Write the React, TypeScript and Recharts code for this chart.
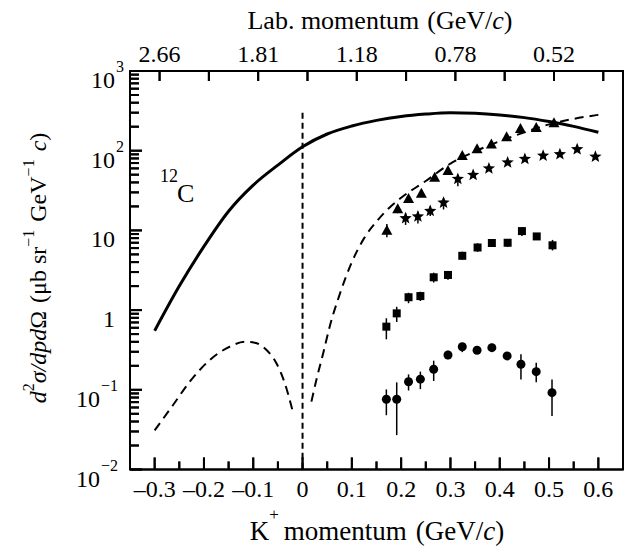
import {
  ComposedChart,
  Line,
  Scatter,
  XAxis,
  YAxis,
  ErrorBar,
  ReferenceLine,
} from "recharts";

// calculated curves: [K+ momentum, cross section]
const solidCurve = [
  [-0.3, 0.55], [-0.25, 2.0], [-0.2, 6.3], [-0.15, 17.4], [-0.1, 37],
  [-0.05, 66], [0.0, 112], [0.05, 162], [0.1, 204], [0.15, 240],
  [0.2, 269], [0.25, 288], [0.3, 299], [0.35, 294], [0.4, 280],
  [0.45, 260], [0.5, 232], [0.55, 202], [0.6, 170],
];

const dashedLeft = [
  [-0.3, 0.031], [-0.263, 0.064], [-0.229, 0.126], [-0.188, 0.237],
  [-0.148, 0.347], [-0.117, 0.4], [-0.097, 0.39], [-0.073, 0.316],
  [-0.053, 0.215], [-0.036, 0.121], [-0.021, 0.057],
];

const dashedRight = [
  [0.018, 0.071], [0.028, 0.133], [0.042, 0.29], [0.055, 0.62],
  [0.075, 1.55], [0.1, 4.0], [0.125, 8.0], [0.15, 12.9], [0.175, 19],
  [0.2, 25.7], [0.25, 41.7], [0.3, 69], [0.35, 98], [0.4, 132],
  [0.45, 170], [0.5, 214], [0.55, 251], [0.6, 282],
];

// measured points: [K+ momentum, value, error down, error up]
const triangles = [
  [0.171, 9.9, 1.7, 2.1], [0.193, 18.4, 2.0, 2.4], [0.215, 24.8, 1.2, 1.2],
  [0.241, 28.9, 1.4, 1.4], [0.268, 45.8, 2, 2], [0.295, 55.6, 2.5, 2.5],
  [0.324, 85.8, 3.5, 3.5], [0.354, 104, 4, 4], [0.383, 120, 5, 5],
  [0.414, 147, 6, 6], [0.442, 187, 7, 7], [0.474, 193, 7, 7], [0.51, 221, 8, 8],
];

const stars = [
  [0.209, 14.2, 2.5, 2.2], [0.234, 14.9, 2.7, 2.2], [0.259, 17.5, 2.3, 2.4],
  [0.286, 22.3, 4.0, 2.9], [0.315, 44.2, 8.4, 5.1], [0.346, 49.6, 2, 2],
  [0.378, 59.8, 2, 2], [0.416, 71.1, 2.5, 2.5], [0.451, 78.7, 3, 3],
  [0.488, 86.5, 3, 3], [0.522, 90.2, 3, 3], [0.557, 104, 4, 4], [0.594, 84.1, 3, 3],
];

const squares = [
  [0.17, 0.62, 0.19, 0.17], [0.191, 0.91, 0.2, 0.19], [0.215, 1.45, 0.23, 0.2],
  [0.239, 1.5, 0.2, 0.2], [0.266, 2.58, 0.36, 0.37], [0.295, 2.76, 0.36, 0.34],
  [0.324, 4.8, 0.5, 0.6], [0.355, 6.1, 0.7, 0.8], [0.384, 6.95, 0.4, 0.4],
  [0.416, 7.0, 0.8, 0.8], [0.445, 9.8, 1.3, 1.2], [0.475, 8.4, 0.5, 0.5],
  [0.507, 6.5, 0.9, 1.1],
];

const circles = [
  [0.17, 0.076, 0.028, 0.025], [0.191, 0.076, 0.049, 0.048], [0.215, 0.126, 0.028, 0.03],
  [0.239, 0.136, 0.034, 0.033], [0.266, 0.181, 0.052, 0.051], [0.295, 0.273, 0.031, 0.037],
  [0.324, 0.347, 0.05, 0.036], [0.354, 0.313, 0.02, 0.02], [0.384, 0.338, 0.04, 0.04],
  [0.415, 0.266, 0.03, 0.03], [0.443, 0.209, 0.074, 0.07], [0.474, 0.169, 0.045, 0.05],
  [0.506, 0.092, 0.045, 0.043],
];

// axes
const xMajorTicks = [-0.3, -0.2, -0.1, 0, 0.1, 0.2, 0.3, 0.4, 0.5, 0.6];
const xMajorLabels = ["–0.3", "–0.2", "–0.1", "0", "0.1", "0.2", "0.3", "0.4", "0.5", "0.6"];
const xMinorTicks = [-0.25, -0.15, -0.05, 0.05, 0.15, 0.25, 0.35, 0.45, 0.55];
const labTicks = [-0.29, -0.19, -0.09, 0.01, 0.11, 0.21, 0.31, 0.41, 0.51, 0.61];
const labLabels = ["2.66", "", "1.81", "", "1.18", "", "0.78", "", "0.52", ""];
const yDecades = [0.01, 0.1, 1, 10, 100, 1000];
const yBase = ["10", "10", "1", "10", "10", "10"];
const yExp = ["−2", "−1", "", "", "2", "3"];

const yMinorTicks = yDecades.slice(0, -1).flatMap((d) =>
  [2, 3, 4, 5, 6, 7, 8, 9].map((m) => d * m)
);

const FONT = "'Liberation Serif', 'Times New Roman', serif";

// plot box, same as the chart margins + axis sizes below
const X_DOMAIN = [-0.35, 0.65];
const PLOT = { left: 130, top: 71, width: 493, height: 398.5 };
const px = (v: number) => PLOT.left + ((v - X_DOMAIN[0]) / (X_DOMAIN[1] - X_DOMAIN[0])) * PLOT.width;
const py = (v: number) => PLOT.top + ((3 - Math.log10(v)) / 5) * PLOT.height;

const toPts = (arr: number[][]) => arr.map(([x, y]) => ({ x, y }));
const toErrPts = (arr: number[][]) =>
  arr.map(([x, y, lo, hi]) => ({ x, y, err: [lo, hi] }));

const BottomTick = (props: any) => {
  const { x, y, payload } = props;
  const i = xMajorTicks.findIndex((t) => Math.abs(t - payload.value) < 1e-6);
  const major = i >= 0;
  return (
    <g>
      <path d={`M${x},${y}L${x},${y - (major ? 12 : 8)}`} stroke="#000" strokeWidth={2} />
      {major && (
        <text x={x} y={y + 27} textAnchor="middle" fontSize={24} fontFamily={FONT}>
          {xMajorLabels[i]}
        </text>
      )}
    </g>
  );
};

const TopTick = (props: any) => {
  const { x, y, index } = props;
  const show = labLabels[index] !== "";
  return (
    <g>
      <path d={`M${x},${y}L${x},${y + 10}`} stroke="#000" strokeWidth={2} />
      {show && (
        <text x={x} y={y - 9} textAnchor="middle" fontSize={24} fontFamily={FONT}>
          {labLabels[index]}
        </text>
      )}
    </g>
  );
};

const LeftTick = (props: any) => {
  const { x, y, payload } = props;
  const i = yDecades.findIndex(
    (d) => Math.abs(Math.log10(d) - Math.log10(payload.value)) < 1e-6
  );
  const major = i >= 0;
  const hasExp = major && yExp[i] !== "";
  const baseEnd = hasExp && yExp[i].length > 1 ? x - 30 : x - 15;
  return (
    <g>
      <path d={`M${x},${y}L${x + (major ? 12 : 9)},${y}`} stroke="#000" strokeWidth={2} />
      {major && (
        <text x={baseEnd} y={y + 17} textAnchor="end" fontSize={24} fontFamily={FONT}>
          {yBase[i]}
        </text>
      )}
      {hasExp && (
        <text x={baseEnd + 1} y={y + 1} textAnchor="start" fontSize={16} fontFamily={FONT}>
          {yExp[i]}
        </text>
      )}
    </g>
  );
};

const starPath = (cx: number, cy: number, R: number, r: number) => {
  let d = "";
  for (let i = 0; i < 10; i++) {
    const a = -Math.PI / 2 + (i * Math.PI) / 5;
    const rad = i % 2 === 0 ? R : r;
    d += (i === 0 ? "M" : "L") + (cx + rad * Math.cos(a)).toFixed(2) + "," + (cy + rad * Math.sin(a)).toFixed(2);
  }
  return d + "Z";
};

const TriangleMark = (p: any) => (
  <path d={`M${p.cx},${p.cy - 6}L${p.cx + 5.5},${p.cy + 4}L${p.cx - 5.5},${p.cy + 4}Z`} fill="#000" />
);
const StarMark = (p: any) => <path d={starPath(p.cx, p.cy, 6.5, 2.8)} fill="#000" />;
const SquareMark = (p: any) => <rect x={p.cx - 4} y={p.cy - 4} width={8} height={8} fill="#000" />;
const CircleMark = (p: any) => <circle cx={p.cx} cy={p.cy} r={4.5} fill="#000" />;

const App = () => {
  const bottom = PLOT.top + PLOT.height;
  return (
    <div style={{ position: "absolute", left: 0, top: 0, width: 627, height: 552 }}>
      <ComposedChart
        width={627}
        height={552}
        margin={{ top: 41, right: 4, bottom: 52.5, left: 70 }}
      >
        <XAxis
          dataKey="x"
          type="number"
          domain={X_DOMAIN}
          ticks={[...xMajorTicks, ...xMinorTicks]}
          interval={0}
          tickSize={0}
          tickMargin={0}
          tick={BottomTick}
          stroke="#000"
          strokeWidth={2}
          height={30}
        />
        <XAxis
          xAxisId="top"
          orientation="top"
          dataKey="x"
          type="number"
          domain={X_DOMAIN}
          allowDataOverflow
          ticks={labTicks}
          interval={0}
          tickSize={0}
          tickMargin={0}
          tick={TopTick}
          stroke="#000"
          strokeWidth={2}
          height={30}
        />
        <YAxis
          type="number"
          scale="log"
          domain={[0.01, 1000]}
          ticks={[...yDecades, ...yMinorTicks]}
          interval={0}
          tickSize={0}
          tickMargin={0}
          tick={LeftTick}
          axisLine={{ stroke: "#000", strokeWidth: 2 }}
          width={60}
        />
        <ReferenceLine x={0.65} stroke="#000" strokeWidth={2} ifOverflow="visible" />
        <ReferenceLine
          segment={[{ x: 0, y: 300 }, { x: 0, y: 0.01 }]}
          stroke="#000"
          strokeWidth={2}
          strokeDasharray="6 4"
          ifOverflow="visible"
        />
        <Line data={toPts(solidCurve)} dataKey="y" type="monotone" stroke="#000" strokeWidth={3} dot={false} isAnimationActive={false} />
        <Line data={toPts(dashedLeft)} dataKey="y" type="monotone" stroke="#000" strokeWidth={2} strokeDasharray="9 6" dot={false} isAnimationActive={false} />
        <Line data={toPts(dashedRight)} dataKey="y" type="monotone" stroke="#000" strokeWidth={2} strokeDasharray="9 6" dot={false} isAnimationActive={false} />
        <Scatter data={toErrPts(triangles)} dataKey="y" shape={TriangleMark} isAnimationActive={false}>
          <ErrorBar dataKey="err" direction="y" width={0} stroke="#000" strokeWidth={1.5} />
        </Scatter>
        <Scatter data={toErrPts(stars)} dataKey="y" shape={StarMark} isAnimationActive={false}>
          <ErrorBar dataKey="err" direction="y" width={0} stroke="#000" strokeWidth={1.5} />
        </Scatter>
        <Scatter data={toErrPts(squares)} dataKey="y" shape={SquareMark} isAnimationActive={false}>
          <ErrorBar dataKey="err" direction="y" width={0} stroke="#000" strokeWidth={1.5} />
        </Scatter>
        <Scatter data={toErrPts(circles)} dataKey="y" shape={CircleMark} isAnimationActive={false}>
          <ErrorBar dataKey="err" direction="y" width={0} stroke="#000" strokeWidth={1.5} />
        </Scatter>
      </ComposedChart>

      <svg
        width={627}
        height={552}
        style={{ position: "absolute", left: 0, top: 0, pointerEvents: "none" }}
        fontFamily={FONT}
        fill="#000"
      >
        {/* frame and tick marks, drawn again on top so they always show */}
        <rect x={PLOT.left} y={PLOT.top} width={PLOT.width} height={PLOT.height} fill="none" stroke="#000" strokeWidth={2} />
        <g stroke="#000" strokeWidth={2}>
          {xMajorTicks.map((t) => (
            <line key={`bM${t}`} x1={px(t)} x2={px(t)} y1={bottom} y2={bottom - 12} />
          ))}
          {xMinorTicks.map((t) => (
            <line key={`bm${t}`} x1={px(t)} x2={px(t)} y1={bottom} y2={bottom - 8} />
          ))}
          {labTicks.map((t) => (
            <line key={`t${t}`} x1={px(t)} x2={px(t)} y1={PLOT.top} y2={PLOT.top + 10} />
          ))}
          {yDecades.map((d) => (
            <line key={`lM${d}`} x1={PLOT.left} x2={PLOT.left + 12} y1={py(d)} y2={py(d)} />
          ))}
          {yMinorTicks.map((d) => (
            <line key={`lm${d}`} x1={PLOT.left} x2={PLOT.left + 9} y1={py(d)} y2={py(d)} />
          ))}
        </g>

        <text x={380} y={29} textAnchor="middle" fontSize={26}>
          Lab. momentum<tspan dx={8}>(GeV/</tspan>
          <tspan fontStyle="italic">c</tspan>)
        </text>
        <text x={377} y={540} textAnchor="middle" fontSize={27}>
          K<tspan fontSize={17} dy={-20}>+</tspan>
          <tspan dy={20} dx={5}>momentum</tspan>
          <tspan dx={9}>(GeV/</tspan>
          <tspan fontStyle="italic">c</tspan>)
        </text>
        <text transform="translate(46,268) rotate(-90)" textAnchor="middle" fontSize={24}>
          <tspan fontStyle="italic">d</tspan>
          <tspan fontSize={16} dy={-12}>2</tspan>
          <tspan fontStyle="italic" dy={12}>σ/dpd</tspan>
          <tspan>Ω</tspan>
          <tspan dx={8}>(μb sr</tspan>
          <tspan fontSize={16} dy={-12}>−1</tspan>
          <tspan dy={12} dx={8}>GeV</tspan>
          <tspan fontSize={16} dy={-12}>−1</tspan>
          <tspan dy={12} dx={8} fontStyle="italic">c</tspan>
          <tspan>)</tspan>
        </text>
        <text x={160} y={182} fontSize={18}>12</text>
        <text x={177} y={202} fontSize={26}>C</text>
      </svg>
    </div>
  );
}

export default App;
